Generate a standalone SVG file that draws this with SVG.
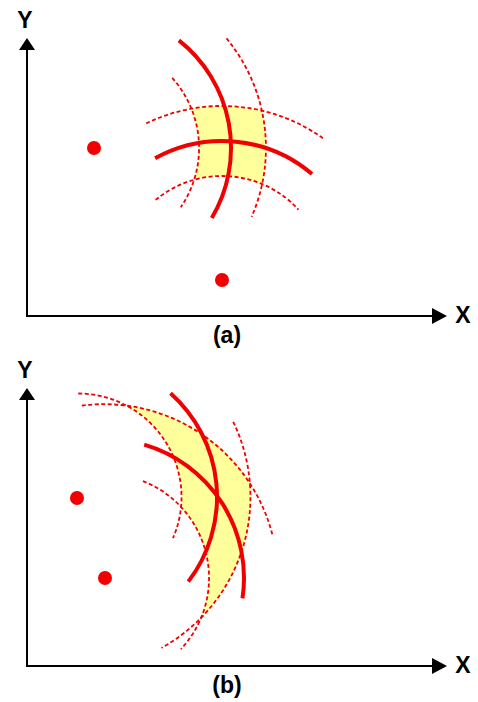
<svg xmlns="http://www.w3.org/2000/svg" width="478" height="702" viewBox="0 0 478 702">
<defs>
<style>
.axis{stroke:#000;stroke-width:2;fill:none}
.head{fill:#000}
.lbl{font-family:"Liberation Sans",Arial,sans-serif;font-weight:bold;font-size:23px;fill:#000}
.region{fill:#ffff9c;stroke:none}
.dash{stroke:#f00000;stroke-width:1.8;fill:none;stroke-dasharray:4 2.5}
.solid{stroke:#f00000;stroke-width:4;fill:none}
.dot{fill:#f00000}
</style>
</defs>
<rect width="478" height="702" fill="#fff"/>

<!-- Panel (a) -->
<g id="panel-a-region"><path class="region" d="M191.38 108.72 A174 174 0 0 1 261.89 110.64 A172 172 0 0 1 262.17 184.08 A104 104 0 0 0 194.06 179.82 A105 105 0 0 0 191.38 108.72 Z"/></g>
<g id="panel-a-arcs">
<path class="dash" d="M172.2 77.9 A105 105 0 0 1 180.8 207.2"/>
<path class="dash" d="M226.5 38.4 A172 172 0 0 1 251.6 216.8"/>
<path class="dash" d="M155.6 199.9 A104 104 0 0 1 298.5 209.6"/>
<path class="dash" d="M146.2 123.4 A174 174 0 0 1 322.9 138.2"/>
<path class="solid" d="M178.9 40.4 A137 137 0 0 1 211.8 217.9"/>
<path class="solid" d="M155.1 158.2 A139 139 0 0 1 312 174"/>
</g>
<g id="panel-a-dot1"><circle class="dot" cx="94" cy="148" r="7"/></g>
<g id="panel-a-dot2"><circle class="dot" cx="222" cy="280" r="7"/></g>
<g id="panel-a-axes">
<line class="axis" x1="27" y1="48" x2="27" y2="317"/>
<line class="axis" x1="26" y1="316" x2="434" y2="316"/>
<polygon class="head" points="27,38 19,50 35,50"/>
<polygon class="head" points="447,316 432,308 432,324"/>
<text class="lbl" x="25" y="28" text-anchor="middle">Y</text>
<text class="lbl" x="463" y="323" text-anchor="middle">X</text>
<text class="lbl" x="227" y="343" text-anchor="middle">(a)</text>
</g>

<!-- Panel (b) -->
<g id="panel-b-region"><path class="region" d="M125.9 405.3 A174 174 0 0 1 249.8 481.5 A172.5 172.5 0 0 1 201 617.9 A104 104 0 0 0 181 507 A103.5 103.5 0 0 0 125.9 405.3 Z"/></g>
<g id="panel-b-arcs">
<path class="dash" d="M78.3 393.5 A103.5 103.5 0 0 1 173 538.1"/>
<path class="dash" d="M233.2 421.8 A172.5 172.5 0 0 1 161.5 647.9"/>
<path class="dash" d="M142.9 481.1 A104 104 0 0 1 180.9 649.1"/>
<path class="dash" d="M81.8 405.6 A174 174 0 0 1 272.5 535"/>
<path class="solid" d="M170.5 393.2 A139 139 0 0 1 188.3 581.6"/>
<path class="solid" d="M144.2 444.7 A139 139 0 0 1 242.5 598.4"/>
</g>
<g id="panel-b-dot1"><circle class="dot" cx="77" cy="498" r="7"/></g>
<g id="panel-b-dot2"><circle class="dot" cx="105" cy="578" r="7"/></g>
<g id="panel-b-axes">
<line class="axis" x1="27" y1="398" x2="27" y2="667"/>
<line class="axis" x1="26" y1="666" x2="434" y2="666"/>
<polygon class="head" points="27,388 19,400 35,400"/>
<polygon class="head" points="447,666 432,658 432,674"/>
<text class="lbl" x="25" y="378" text-anchor="middle">Y</text>
<text class="lbl" x="463" y="673" text-anchor="middle">X</text>
<text class="lbl" x="227" y="693" text-anchor="middle">(b)</text>
</g>
</svg>
